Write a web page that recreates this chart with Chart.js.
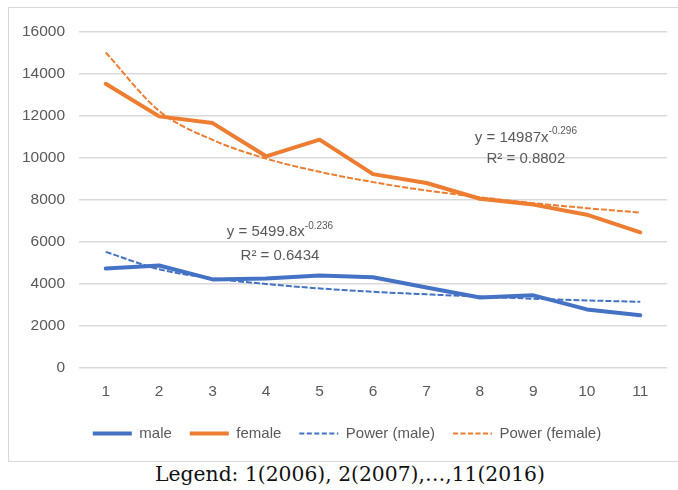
<!DOCTYPE html>
<html>
<head>
<meta charset="utf-8">
<script src="https://cdn.jsdelivr.net/npm/chart.js@4.4.0/dist/chart.umd.min.js"></script>
<style>
  html, body { margin: 0; padding: 0; background: #fff; overflow: hidden; }
  #box {
    position: absolute; left: 8px; top: 7px;
    width: 670px; height: 453px;
    border: 1px solid #d9d9d9;
  }
  #caption {
    position: absolute; left: 0; top: 462px; width: 700px;
    text-align: center;
    font-family: "DejaVu Serif", "Liberation Serif", serif;
    font-size: 20.3px; color: #111;
  }
</style>
</head>
<body>
<div id="box"><canvas id="chart" width="670" height="453"></canvas></div>
<div id="caption">Legend: 1(2006), 2(2007),…,11(2016)</div>
<script>
// years 2006..2016 shown as 1..11
var categories = ['1', '2', '3', '4', '5', '6', '7', '8', '9', '10', '11'];
var male = [4710, 4850, 4190, 4230, 4380, 4290, 3800, 3330, 3430, 2760, 2480];
var female = [13500, 11950, 11630, 10050, 10840, 9200, 8780, 8030, 7750, 7270, 6430];
// trend lines
var powerMale = [5500, 4670, 4240, 3970, 3760, 3600, 3480, 3370, 3270, 3190, 3120];
var powerFemale = [14990, 12210, 10830, 9940, 9310, 8820, 8420, 8100, 7820, 7580, 7370];
var yTicks = [0, 2000, 4000, 6000, 8000, 10000, 12000, 14000, 16000];

var blue = '#4472C4';
var orange = '#ED7D31';
var grey = '#595959';
var font = 'Liberation Sans';

// trend equations, drawn with a raised exponent
var equations = [
    { x: 3.26, y: 6430, base: 'y = 5499.8x', exp: '-0.236' },
    { x: 3.26, y: 5290, base: 'R² = 0.6434', exp: '' },
    { x: 7.86, y: 10950, base: 'y = 14987x', exp: '-0.296' },
    { x: 7.86, y: 9950, base: 'R² = 0.8802', exp: '' }
];

var equationPlugin = {
    id: 'equations',
    afterLayout: function(chart) {
        // legend sits a little right of centre in the original
        chart.legend.left += 3;
        chart.legend.right += 3;
    },
    afterDatasetsDraw: function(chart) {
        var ctx = chart.ctx;
        var xs = chart.scales.x, ys = chart.scales.y;
        ctx.save();
        ctx.fillStyle = grey;
        ctx.textBaseline = 'middle';
        ctx.textAlign = 'left';
        equations.forEach(function(eq) {
            ctx.font = '15px "' + font + '"';
            var wBase = ctx.measureText(eq.base).width;
            ctx.font = '10px "' + font + '"';
            var wExp = eq.exp ? ctx.measureText(eq.exp).width : 0;
            var cx = xs.getPixelForValue(eq.x);
            var cy = ys.getPixelForValue(eq.y);
            var left = cx - (wBase + wExp) / 2;
            ctx.font = '15px "' + font + '"';
            ctx.fillText(eq.base, left, cy);
            if (eq.exp) {
                ctx.font = '10px "' + font + '"';
                ctx.fillText(eq.exp, left + wBase, cy - 6);
            }
        });
        ctx.restore();
    }
};

var ctx = document.getElementById('chart');
new Chart(ctx, {
    type: 'line',
    data: {
        labels: categories,
        datasets: [
            {
                label: 'male',
                data: male,
                borderColor: blue,
                backgroundColor: blue,
                borderWidth: 4,
                borderCapStyle: 'round',
                borderJoinStyle: 'round',
                pointRadius: 0,
                tension: 0,
                order: 2
            },
            {
                label: 'female',
                data: female,
                borderColor: orange,
                backgroundColor: orange,
                borderWidth: 4,
                borderCapStyle: 'round',
                borderJoinStyle: 'round',
                pointRadius: 0,
                tension: 0,
                order: 2
            },
            {
                label: 'Power (male)',
                data: powerMale,
                borderColor: blue,
                backgroundColor: blue,
                borderWidth: 2,
                borderDash: [6, 2],
                pointRadius: 0,
                cubicInterpolationMode: 'monotone',
                order: 1
            },
            {
                label: 'Power (female)',
                data: powerFemale,
                borderColor: orange,
                backgroundColor: orange,
                borderWidth: 2,
                borderDash: [6, 2],
                pointRadius: 0,
                cubicInterpolationMode: 'monotone',
                order: 1
            }
        ]
    },
    options: {
        responsive: false,
        animation: false,
        layout: { padding: { left: 12, right: 12, top: 13, bottom: 10 } },
        plugins: {
            tooltip: { enabled: false },
            legend: {
                position: 'bottom',
                labels: {
                    usePointStyle: true,
                    pointStyle: 'line',
                    pointStyleWidth: 39,
                    boxWidth: 38,
                    boxHeight: 4,
                    padding: 18,
                    color: grey,
                    font: { family: font, size: 15 },
                    sort: function(a, b) { return a.datasetIndex - b.datasetIndex; },
                    // point style legends ignore the dataset dash, so copy it over
                    generateLabels: function(chart) {
                        var items = Chart.defaults.plugins.legend.labels.generateLabels(chart);
                        items.forEach(function(item) {
                            var ds = chart.data.datasets[item.datasetIndex];
                            item.lineWidth = ds.borderWidth;
                            item.lineDash = ds.borderDash ? [5, 2.5] : [];
                            item.strokeStyle = ds.borderColor;
                        });
                        return items;
                    }
                }
            }
        },
        scales: {
            x: {
                offset: true,
                grid: { display: false },
                border: { display: false },
                ticks: {
                    color: grey,
                    padding: 7,
                    font: { family: font, size: 15.5 }
                }
            },
            y: {
                min: 0,
                max: 16000,
                afterBuildTicks: function(axis) {
                    axis.ticks = yTicks.map(function(v) { return { value: v }; });
                },
                afterFit: function(axis) { axis.width = 58; },
                grid: { color: '#d9d9d9', lineWidth: 1.5, drawTicks: false },
                border: { display: false },
                ticks: {
                    color: grey,
                    padding: 14,
                    font: { family: font, size: 15.5 },
                    callback: function(v) { return String(v); }
                }
            }
        }
    },
    plugins: [equationPlugin]
});
</script>
</body>
</html>
